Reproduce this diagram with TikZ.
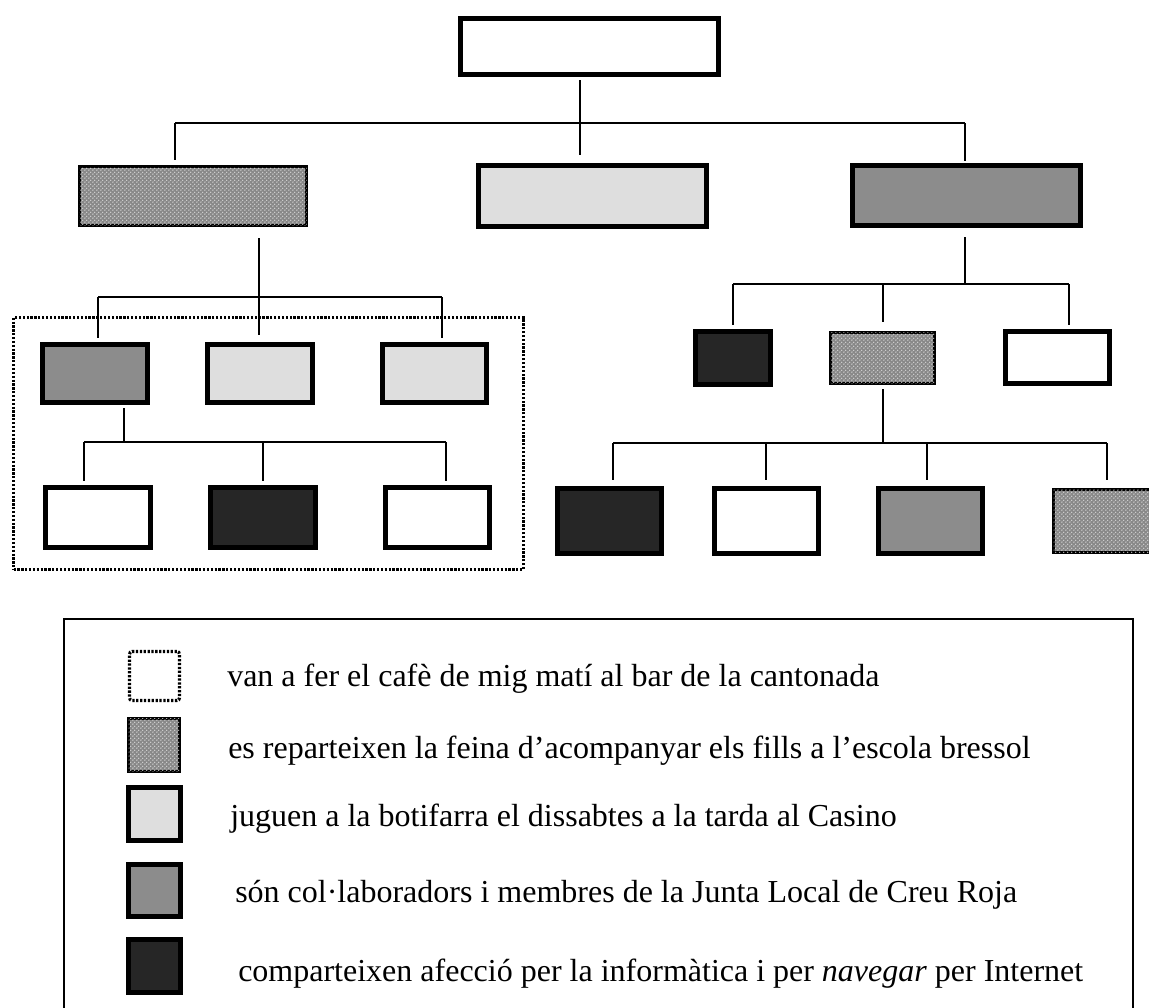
\documentclass[tikz,border=0pt]{standalone}
\usepackage{fontspec}
\setmainfont{Liberation Serif}
\usetikzlibrary{patterns}

\definecolor{lightfill}{HTML}{DEDEDE}
\definecolor{midfill}{HTML}{8C8C8C}
\definecolor{darkfill}{HTML}{262626}
\definecolor{hatchbase}{HTML}{888888}

% light dot lattice laid over the grey of the hatched boxes
\pgfdeclarepatternformonly{meshdots}{\pgfqpoint{0pt}{0pt}}{\pgfqpoint{3.2pt}{3.2pt}}{\pgfqpoint{3.2pt}{3.2pt}}{%
  \pgfpathcircle{\pgfqpoint{0.8pt}{0.8pt}}{0.62pt}%
  \pgfpathcircle{\pgfqpoint{2.4pt}{2.4pt}}{0.62pt}%
  \pgfusepath{fill}}

\tikzset{
  sz/.style 2 args={minimum width={#1*0.75pt}, minimum height={#2*0.75pt}},
  boxbase/.style={draw=black, inner sep=0pt, outer sep=0pt},
  whitebox/.style={boxbase, line width=3.75pt, fill=white},
  lightbox/.style={boxbase, line width=3.75pt, fill=lightfill},
  midbox/.style={boxbase, line width=3.75pt, fill=midfill},
  darkbox/.style={boxbase, line width=3.75pt, fill=darkfill},
  hatchbox/.style={boxbase, line width=2.25pt, fill=hatchbase,
    postaction={pattern=meshdots, pattern color=white!90!black}},
  dotbox/.style={boxbase, line width=2.4pt, dash pattern=on 1.7pt off 1.2pt},
  conn/.style={line width=1.5pt, line cap=butt},
  legendtext/.style={anchor=base west, inner sep=0pt,
    font=\fontsize{24}{28}\selectfont},
}

\begin{document}
\begin{tikzpicture}[x=0.75pt, y=-0.75pt]
\useasboundingbox (0,0) rectangle (1149,1007);

% ---- top of the tree
\node[whitebox, sz={258}{56}] (top) at (589.5,46.5) {};

% ---- first level
\node[hatchbox, sz={227}{59}] (r1a) at (193,196) {};
\node[lightbox, sz={228}{61}] (r1b) at (592.5,196) {};
\node[midbox,   sz={228}{60}] (r1c) at (966.5,195.5) {};

\coordinate (t0) at (580,80);
\coordinate (t1) at (580,155);
\coordinate (tbL) at (175,123);
\coordinate (tbR) at (965,123);
\coordinate (tdL) at (175,160);
\coordinate (tdR) at (965,161);
\draw[conn] (t0) -- (t1);
\draw[conn] (tbL) -- (tbR);
\draw[conn] (tbL) -- (tdL);
\draw[conn] (tbR) -- (tdR);

% ---- left branch (group with dotted frame)
\node[dotbox, sz={510}{252}] (grp) at (268.5,443.5) {};

\node[midbox,   sz={105}{58}] (l2a) at (95,373) {};
\node[lightbox, sz={105}{58}] (l2b) at (260,373) {};
\node[lightbox, sz={104}{58}] (l2c) at (434.5,373) {};

\coordinate (la0) at (259,238);
\coordinate (la1) at (259,335);
\coordinate (lbL) at (98,297);
\coordinate (lbR) at (442,297);
\coordinate (ldL) at (98,338);
\coordinate (ldR) at (442,338);
\draw[conn] (la0) -- (la1);
\draw[conn] (lbL) -- (lbR);
\draw[conn] (lbL) -- (ldL);
\draw[conn] (lbR) -- (ldR);

\node[whitebox, sz={105}{60}] (l3a) at (98,517.5) {};
\node[darkbox,  sz={105}{60}] (l3b) at (263,517.5) {};
\node[whitebox, sz={104}{60}] (l3c) at (437.5,517.5) {};

\coordinate (lc0) at (124,408);
\coordinate (lc1) at (124,442);
\coordinate (lcL) at (84,442);
\coordinate (lcR) at (446,442);
\coordinate (lcM) at (263,442);
\coordinate (leL) at (84,481);
\coordinate (leM) at (263,481);
\coordinate (leR) at (446,481);
\draw[conn] (lc0) -- (lc1);
\draw[conn] (lcL) -- (lcR);
\draw[conn] (lcL) -- (leL);
\draw[conn] (lcM) -- (leM);
\draw[conn] (lcR) -- (leR);

% ---- right branch
\node[darkbox,  sz={75}{53}]  (r2a) at (733,358) {};
\node[hatchbox, sz={104}{51}] (r2b) at (882.5,358) {};
\node[whitebox, sz={104}{52}] (r2c) at (1057.5,357.5) {};

\coordinate (ra0) at (965,237);
\coordinate (ra1) at (965,284);
\coordinate (rbL) at (733,284);
\coordinate (rbM) at (883,284);
\coordinate (rbR) at (1069,284);
\coordinate (rdL) at (733,325);
\coordinate (rdM) at (883,322);
\coordinate (rdR) at (1069,325);
\draw[conn] (ra0) -- (ra1);
\draw[conn] (rbL) -- (rbR);
\draw[conn] (rbL) -- (rdL);
\draw[conn] (rbM) -- (rdM);
\draw[conn] (rbR) -- (rdR);

\node[darkbox,  sz={104}{65}] (r3a) at (609.5,521) {};
\node[whitebox, sz={104}{65}] (r3b) at (766.5,521) {};
\node[midbox,   sz={104}{65}] (r3c) at (930.5,521) {};
\node[hatchbox, sz={107}{63}] (r3d) at (1107,521) {};

\coordinate (rc0) at (883,389);
\coordinate (rc1) at (883,443);
\coordinate (rcA) at (613,443);
\coordinate (rcB) at (766,443);
\coordinate (rcC) at (927,443);
\coordinate (rcD) at (1107,443);
\coordinate (reA) at (613,480);
\coordinate (reB) at (766,480);
\coordinate (reC) at (927,480);
\coordinate (reD) at (1107,480);
\draw[conn] (rc0) -- (rc1);
\draw[conn] (rcA) -- (rcD);
\draw[conn] (rcA) -- (reA);
\draw[conn] (rcB) -- (reB);
\draw[conn] (rcC) -- (reC);
\draw[conn] (rcD) -- (reD);

% ---- legend
\draw[line width=1.9pt] (64,1030) -- (64,619) -- (1133,619) -- (1133,1030);

\node[dotbox, rounded corners=2pt, sz={50}{49}] (k1) at (154.5,676) {};
\node[hatchbox, sz={51}{53}] (k2) at (154,745) {};
\node[lightbox, sz={52}{53}] (k3) at (154.5,814) {};
\node[midbox,   sz={52}{52}] (k4) at (154.5,890.5) {};
\node[darkbox,  sz={52}{53}] (k5) at (154.5,966) {};

\node[legendtext] (t1) at (227,686) {van a fer el cafè de mig matí al bar de la cantonada};
\node[legendtext] (t2) at (228,758) {es reparteixen la feina d’acompanyar els fills a l’escola bressol};
\node[legendtext] (t3) at (230,826) {juguen a la botifarra el dissabtes a la tarda al Casino};
\node[legendtext] (t4) at (235,902) {són col·laboradors i membres de la Junta Local de Creu Roja};
\node[legendtext] (t5) at (238,981) {comparteixen afecció per la informàtica i per \emph{navegar} per Internet};
\end{tikzpicture}
\end{document}
